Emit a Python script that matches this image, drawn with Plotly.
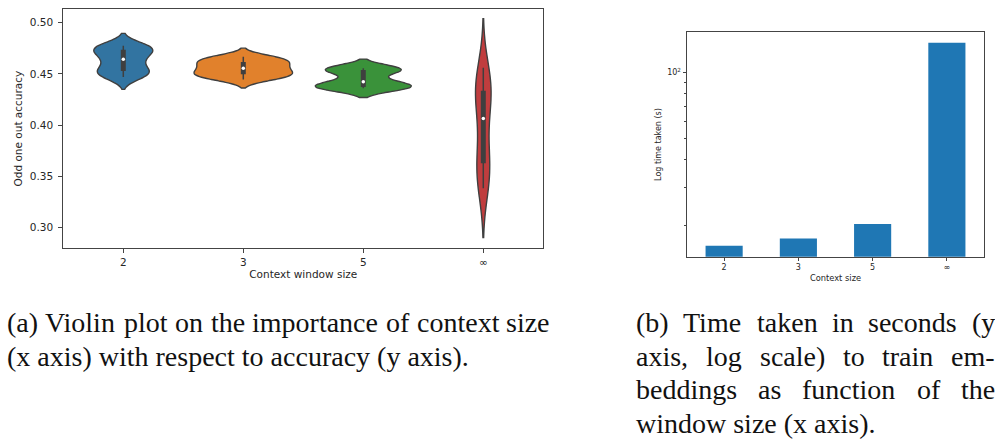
import numpy as np
import plotly.graph_objects as go

# ---------------- data ----------------
context_sizes = ["2", "3", "5", "\u221e"]

acc_ctx2 = [0.447, 0.450, 0.452, 0.4555, 0.4625, 0.466, 0.4715, 0.4745, 0.476, 0.4776]
acc_ctx3 = [0.4447, 0.4475, 0.449, 0.4515, 0.454, 0.457, 0.4595, 0.4625, 0.4645, 0.4668]
acc_ctx5 = [0.436, 0.4362, 0.4368, 0.4385, 0.4405, 0.4443, 0.4525, 0.4545, 0.455, 0.4555]
acc_ctxinf = [0.3384, 0.348, 0.361, 0.3685, 0.395, 0.418, 0.431, 0.4345, 0.441, 0.456]
accuracy_series = [acc_ctx2, acc_ctx3, acc_ctx5, acc_ctxinf]

time_taken_s = [16.2, 17.5, 20.4, 137.0]

acc_tick_vals = [0.30, 0.35, 0.40, 0.45, 0.50]
time_major_ticks = [100]
time_major_labels = ["10<sup>2</sup>"]
time_minor_ticks = [20, 30, 40, 50, 60, 70, 80, 90]

caption_a = ["(a) Violin plot on the importance of context size",
             "(x axis) with respect to accuracy (y axis)."]
caption_b = ["(b) Time taken in seconds (y",
             "axis, log scale) to train em-",
             "beddings as function of the",
             "window size (x axis)."]

# ---------------- style ----------------
violin_colors = ["#3274a1", "#e1812c", "#3a923a", "#c03d3e"]
violin_widths = [0.49, 0.82, 0.80, 0.13]
kde_bandwidths = [0.006, 0.0042, 0.0045, 0.024]
outline = "#3f3f3f"
W, H = 995, 445
FONT = "DejaVu Sans"
SERIF = "Liberation Serif"
CAP_SIZE = 28

# Times / Liberation Serif advance widths (per 1000 em)
TIMES_W = {" ": 250, "(": 333, ")": 333, ",": 250, ".": 250, "-": 333,
           "T": 611, "V": 722, "a": 444, "b": 500, "c": 444, "d": 500, "e": 444,
           "f": 333, "g": 500, "h": 500, "i": 278, "k": 500, "l": 278, "m": 778,
           "n": 500, "o": 500, "p": 500, "r": 333, "s": 389, "t": 278, "u": 500,
           "w": 722, "x": 500, "y": 500, "z": 444}


def px_x(v):
    return v / W


def px_y(v):
    return 1 - v / H


def word_w(word, size):
    return sum(TIMES_W.get(c, 500) for c in word) / 1000.0 * size


fig = go.Figure()

# violins
for cat, vals, col, bw, wd in zip(context_sizes, accuracy_series, violin_colors,
                                  kde_bandwidths, violin_widths):
    fig.add_trace(go.Violin(
        x=[cat] * len(vals), y=vals, name=cat,
        fillcolor=col, line=dict(color=outline, width=1.4),
        width=wd, scalegroup="v" + cat, scalemode="width", spanmode="soft",
        bandwidth=bw, points=False, box_visible=False, meanline_visible=False,
        opacity=1, showlegend=False, xaxis="x", yaxis="y", hoverinfo="skip"))

# inner box (seaborn style) computed from the data
for cat, vals in zip(context_sizes, accuracy_series):
    arr = np.array(vals)
    q1, med, q3 = np.percentile(arr, [25, 50, 75])
    iqr = q3 - q1
    lo = arr[arr >= q1 - 1.5 * iqr].min()
    hi = arr[arr <= q3 + 1.5 * iqr].max()
    fig.add_trace(go.Scatter(x=[cat, cat], y=[lo, hi], mode="lines",
                             line=dict(color=outline, width=1.5),
                             showlegend=False, hoverinfo="skip", xaxis="x", yaxis="y"))
    fig.add_trace(go.Scatter(x=[cat, cat], y=[q1, q3], mode="lines",
                             line=dict(color=outline, width=5),
                             showlegend=False, hoverinfo="skip", xaxis="x", yaxis="y"))
    fig.add_trace(go.Scatter(x=[cat], y=[med], mode="markers",
                             marker=dict(color="white", size=3.5, line=dict(width=0)),
                             showlegend=False, hoverinfo="skip", xaxis="x", yaxis="y"))

# bars
fig.add_trace(go.Bar(x=context_sizes, y=time_taken_s, width=0.5,
                     marker=dict(color="#1f77b4", line=dict(width=0)),
                     showlegend=False, xaxis="x2", yaxis="y2"))

axis_common = dict(showline=True, linecolor="#444", linewidth=1, mirror=True,
                   ticks="outside", tickcolor="#444", showgrid=False, zeroline=False)

fig.update_layout(
    width=W, height=H, margin=dict(l=0, r=0, t=0, b=0),
    paper_bgcolor="white", plot_bgcolor="white",
    violinmode="overlay", violingap=0, violingroupgap=0,
    font=dict(family=FONT, color="#262626"),
    xaxis=dict(domain=[px_x(63.3), px_x(543.3)], type="category",
               categoryorder="array", categoryarray=context_sizes,
               range=[-0.5, 3.5], ticklen=4, tickfont=dict(size=10.5),
               title=dict(text="Context window size", font=dict(size=10.5), standoff=3),
               anchor="y", **axis_common),
    yaxis=dict(domain=[px_y(248.3), px_y(9)], range=[0.2799, 0.5134],
               tickvals=acc_tick_vals, tickformat=".2f", ticklen=4,
               tickfont=dict(size=10.5), ticklabelstandoff=3,
               title=dict(text="Odd one out accuracy", font=dict(size=10.5), standoff=5),
               anchor="x", **axis_common),
    xaxis2=dict(domain=[px_x(687), px_x(984)], type="category",
                categoryorder="array", categoryarray=context_sizes,
                range=[-0.5, 3.5], ticklen=3, tickfont=dict(size=8),
                title=dict(text="Context size", font=dict(size=8.3), standoff=3),
                anchor="y2", **axis_common),
    yaxis2=dict(domain=[px_y(256.7), px_y(32.3)], type="log", range=[1.16, 2.184],
                tickvals=time_major_ticks, ticktext=time_major_labels, ticklen=3.5,
                tickfont=dict(size=8),
                minor=dict(tickvals=time_minor_ticks, ticks="outside", ticklen=2,
                           tickcolor="#444", showgrid=False),
                title=dict(text="Log time taken (s)", font=dict(size=8), standoff=4),
                anchor="x2", **axis_common),
)

annotations = []
line_y = [322.7, 356.2, 389.7, 423.2]


def add_line(txt, left, right, y, justify):
    font = dict(family=SERIF, size=CAP_SIZE, color="#111111")
    words = txt.split(" ")
    if not justify or len(words) < 2:
        annotations.append(dict(text=txt, x=px_x(left), y=px_y(y), xref="paper", yref="paper",
                                xanchor="left", yanchor="middle", showarrow=False, font=font))
        return
    widths = [word_w(w, CAP_SIZE) for w in words]
    gap = (right - left - sum(widths)) / (len(words) - 1)
    xpos = left
    for w, ww in zip(words, widths):
        annotations.append(dict(text=w, x=px_x(xpos), y=px_y(y), xref="paper", yref="paper",
                                xanchor="left", yanchor="middle", showarrow=False, font=font))
        xpos += ww + gap


for i, txt in enumerate(caption_a):
    add_line(txt, 5, 548, line_y[i], i < len(caption_a) - 1)
for i, txt in enumerate(caption_b):
    add_line(txt, 634, 993, line_y[i], i < len(caption_b) - 1)
fig.update_layout(annotations=annotations)

fig.write_html("out.html", config={"displayModeBar": False},
               post_script="document.body.style.margin='0px';")
